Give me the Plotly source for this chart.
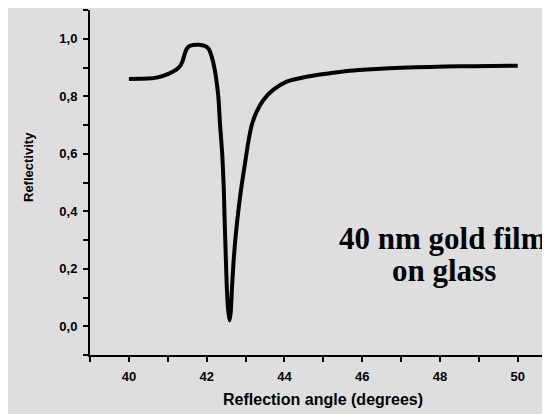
import plotly.graph_objects as go

# Reflection angle (degrees)
angle = [40.0, 40.3, 40.63, 40.88, 41.14, 41.3, 41.38, 41.43, 41.48, 41.55, 41.65, 41.8, 41.95,
         42.05, 42.13, 42.21, 42.30, 42.345, 42.40, 42.44, 42.46, 42.49, 42.52, 42.55, 42.59,
         42.62, 42.65, 42.69, 42.73, 42.78, 42.84, 42.91, 42.99, 43.07, 43.16, 43.28, 43.46,
         43.71, 44.06, 44.57, 45.17, 45.68, 46.37, 47.0, 47.74, 48.5, 49.3, 50.0]
# Reflectivity
reflectivity = [0.860, 0.861, 0.863, 0.871, 0.886, 0.902, 0.922, 0.945, 0.963, 0.974, 0.978, 0.979, 0.975,
                0.965, 0.938, 0.891, 0.799, 0.70, 0.60, 0.48, 0.38, 0.25, 0.13, 0.06, 0.02,
                0.05, 0.13, 0.22, 0.29, 0.36, 0.43, 0.50, 0.57, 0.64, 0.70, 0.745, 0.787,
                0.822, 0.851, 0.868, 0.880, 0.889, 0.895, 0.899, 0.902, 0.904, 0.905, 0.906]

x_title = "Reflection angle (degrees)"
y_title = "Reflectivity"
note_lines = ["40 nm gold film", "on glass"]

bg = "#dedede"
sans = "Liberation Sans, Arial, sans-serif"
serif = "Liberation Serif, Times New Roman, serif"

# plot area in viewport pixels (page body has an 8px margin)
PL, PR, PT, PB = 90, 550, 10, 355


def px(xv):
    return (xv - PL) / (PR - PL)


def py(yv):
    return (PB - yv) / (PB - PT)


fig = go.Figure()
fig.add_trace(go.Scatter(x=angle, y=reflectivity, mode="lines",
                         line=dict(color="black", width=4, shape="spline", smoothing=0.6),
                         hoverinfo="skip"))

axis_common = dict(
    showline=True, linecolor="black", linewidth=2, showgrid=False, zeroline=False,
    ticks="outside", ticklen=5, tickwidth=2, tickcolor="black", ticklabelstandoff=3,
    tickfont=dict(family=sans, size=13, color="black", weight="bold"),
)

fig.update_layout(
    width=542, height=406,
    margin=dict(l=82, r=0, t=2, b=59, autoexpand=False),
    paper_bgcolor=bg, plot_bgcolor=bg,
    separators=",.",
    showlegend=False,
    xaxis=dict(range=[39, 50.83], tick0=40, dtick=2, tickformat="d",
               minor=dict(tick0=39, dtick=1, ticks="outside", ticklen=5, tickwidth=2, tickcolor="black"),
               **axis_common),
    yaxis=dict(range=[-0.1, 1.1], tick0=0, dtick=0.2, tickformat=".1f",
               minor=dict(tick0=-0.1, dtick=0.1, ticks="outside", ticklen=5, tickwidth=2, tickcolor="black"),
               **axis_common),
    annotations=[
        dict(text=x_title, xref="paper", yref="paper", x=px(322.5), y=py(400),
             xanchor="center", yanchor="middle", showarrow=False,
             font=dict(family=sans, size=16, color="black", weight="bold")),
        dict(text=y_title, xref="paper", yref="paper", x=px(28.5), y=py(167.5), textangle=-90,
             xanchor="center", yanchor="middle", showarrow=False,
             font=dict(family=sans, size=13, color="black", weight="bold")),
        dict(text=note_lines[0], xref="paper", yref="paper", x=px(442.5), y=py(238),
             xanchor="center", yanchor="middle", showarrow=False,
             font=dict(family=serif, size=31, color="black", weight="bold")),
        dict(text=note_lines[1], xref="paper", yref="paper", x=px(444), y=py(270),
             xanchor="center", yanchor="middle", showarrow=False,
             font=dict(family=serif, size=31, color="black", weight="bold")),
    ],
)

fig.write_html("out.html")
